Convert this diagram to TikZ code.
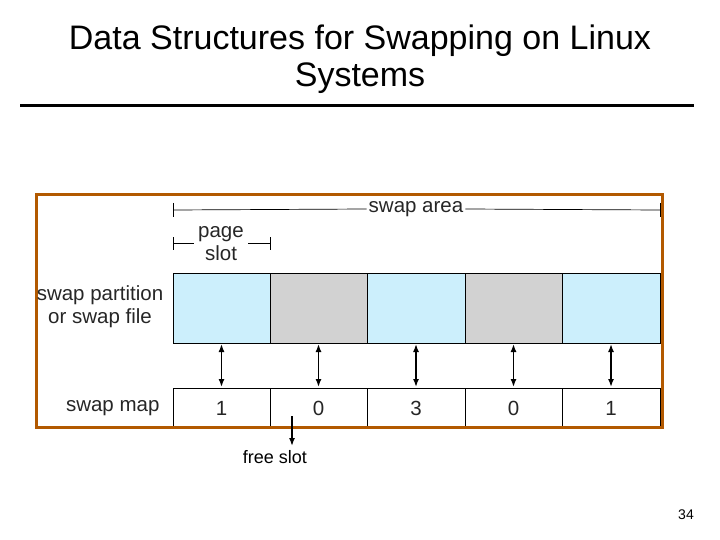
\documentclass[tikz,border=0pt]{standalone}
\usepackage{fontspec}
\setmainfont{Liberation Sans}
\usetikzlibrary{arrows.meta}
\begin{document}
\begin{tikzpicture}[x=1pt,y=-1pt,
  blue cell/.style={draw=black,fill=cyan!20,line width=0.6pt},
  gray cell/.style={draw=black,fill=gray!35,line width=0.6pt},
  map cell/.style={draw=black,fill=white,line width=0.6pt},
  lbl/.style={font=\fontsize{20.5}{23}\selectfont,text=black!85},
  dbl/.style={{Latex[length=8pt,width=6pt]}-{Latex[length=8pt,width=6pt]},line width=1.5pt},
  dim/.style={line width=0.7pt}]
\useasboundingbox (0,0) rectangle (720,540);
\node[font=\fontsize{34}{37}\selectfont,align=center] (title) at (360,59) {Data Structures for Swapping on Linux\\Systems};
\draw[line width=3pt] (20,106) -- (694,106);
% cells
\foreach \i/\a/\b/\s/\v in {1/173/270/blue cell/1,2/270/367/gray cell/0,3/367/465/blue cell/3,4/465/562/gray cell/0,5/562/660/blue cell/1}{
  \path[\s] (\a,273) rectangle (\b,343);
  \coordinate (t\i) at ({(\a+\b)/2},343);
  \path[map cell] (\a,388) rectangle (\b,427);
  \node[lbl] (m\i) at ({(\a+\b)/2},408) {\v};
  \coordinate (b\i) at ({(\a+\b)/2},388);
  \draw[dbl] ([yshift=-1]t\i) -- ([yshift=1]b\i);
}
\draw[draw=orange!70!black,line width=3pt] (36,195) rectangle (662,427);
% dimension lines
\node[lbl,inner sep=2pt] (sa) at (416,209) {swap area};
\draw[dim] (173,203) -- (173,217); \draw[dim] (660,203) -- (660,217);
\draw[dim] (173,210) -- (sa.west); \draw[dim] (sa.east) -- (660,210);
\node[lbl,align=center] (ps) at (221,244) {page\\slot};
\draw[dim] (173,237) -- (173,250); \draw[dim] (270,237) -- (270,250);
\draw[dim] (173,243) -- (194,243); \draw[dim] (248,243) -- (270,243);
\node[lbl,align=center] (sp) at (100,307) {swap partition\\or swap file};
\node[lbl,anchor=east] (sm) at (163,408) {swap map};
\node[font=\fontsize{18}{20}\selectfont] (fs) at (275,457) {free slot};
\coordinate (fsa) at (292,416);
\draw[-{Latex[length=8pt,width=6pt]},line width=1.5pt] (fsa) -- (292,446);
\node[font=\fontsize{14}{16}\selectfont] (pg) at (686,515) {34};
\end{tikzpicture}
\end{document}
